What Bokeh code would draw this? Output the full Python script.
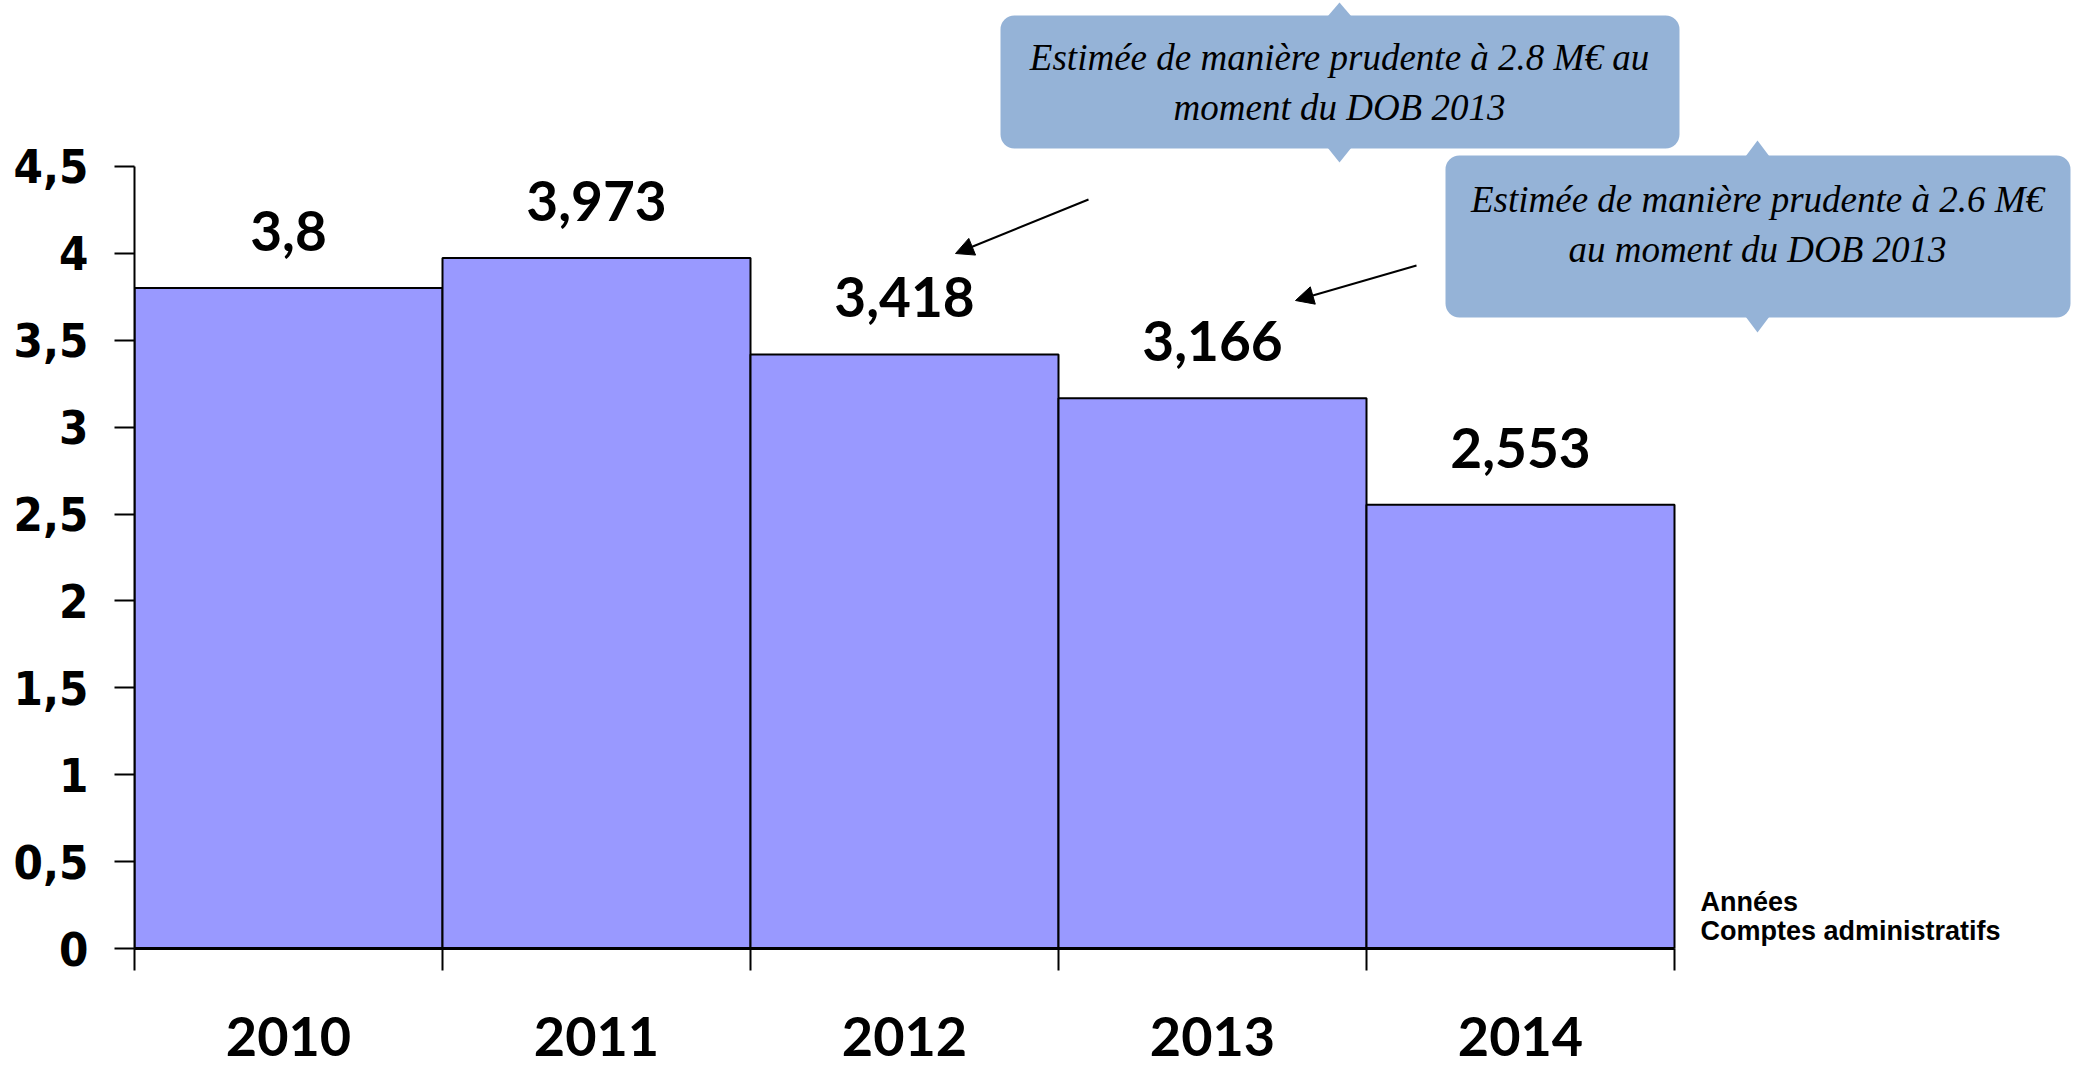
from bokeh.plotting import figure
from bokeh.models import (Range1d, FixedTicker, BoxAnnotation, Arrow, NormalHead,
                          ColumnDataSource, Label)
from bokeh.core.properties import value
from bokeh.embed import file_html
from bokeh.resources import INLINE

# ---- data ----
years = ["2010", "2011", "2012", "2013", "2014"]
amounts = [3.8, 3.973, 3.418, 3.166, 2.553]
amount_labels = ["3,8", "3,973", "3,418", "3,166", "2,553"]
y_ticks = [0, 0.5, 1, 1.5, 2, 2.5, 3, 3.5, 4, 4.5]
y_tick_labels = ["0", "0,5", "1", "1,5", "2", "2,5", "3", "3,5", "4", "4,5"]
axis_title = ["Années", "Comptes administratifs"]
note1 = ["Estimée de manière prudente à 2.8 M€ au", "moment du DOB 2013"]
note2 = ["Estimée de manière prudente à 2.6 M€", "au moment du DOB 2013"]

# ---- layout constants (pixels) ----
W, H = 2078, 1067
LEFT, BOTTOM_PX = 134, 948          # frame left / y=0 pixel row
BAR_PX, UNIT_PX = 308, 173.8        # px per bar, px per y unit


def dx(px):
    return (px - LEFT) / BAR_PX


def dy(py):
    return (BOTTOM_PX - py) / UNIT_PX


n = len(years)
lefts = list(range(n))
rights = [i + 1 for i in range(n)]
centers = [i + 0.5 for i in range(n)]

p = figure(width=W, height=H, output_backend="svg", toolbar_location=None,
           x_range=Range1d(0, (W - LEFT) / BAR_PX),
           y_range=Range1d(0, BOTTOM_PX / UNIT_PX),
           min_border_left=LEFT, min_border_right=0, min_border_top=0,
           min_border_bottom=H - BOTTOM_PX)
p.outline_line_color = None
p.xgrid.visible = False
p.ygrid.visible = False
p.background_fill_color = "white"
p.border_fill_color = "white"

src = ColumnDataSource(dict(left=lefts, right=rights, top=amounts,
                            bottom=[0] * n, x=centers, lab=amount_labels))
p.quad(left="left", right="right", top="top", bottom="bottom", source=src,
       fill_color="#9999FF", line_color="black", line_width=2)

p.text(x="x", y="top", text="lab", source=src, y_offset=-57,
       text_align="center", text_baseline="middle",
       text_font=value("Lato"), text_font_style="bold",
       text_font_size="55px", text_color="black")

# y axis
ya = p.yaxis[0]
ya.ticker = FixedTicker(ticks=y_ticks)
ya.major_label_overrides = {t: l for t, l in zip(y_ticks, y_tick_labels)}
ya.bounds = (0, 4.5)
ya.axis_line_width = 2
ya.axis_line_color = "black"
ya.major_tick_in = 0
ya.major_tick_out = 20
ya.major_tick_line_width = 2
ya.minor_tick_line_color = None
ya.major_label_standoff = 26
ya.major_label_text_font = "DejaVu Sans Condensed, DejaVu Sans"
ya.major_label_text_font_style = "bold"
ya.major_label_text_font_size = "47px"
ya.major_label_text_color = "black"

# x axis
xa = p.xaxis[0]
xa.ticker = FixedTicker(ticks=centers, minor_ticks=list(range(n + 1)))
xa.major_label_overrides = {c: y for c, y in zip(centers, years)}
xa.bounds = (0, n)
xa.axis_line_width = 3
xa.axis_line_color = "black"
xa.major_tick_in = 0
xa.major_tick_out = 0
xa.major_tick_line_color = None
xa.minor_tick_in = 0
xa.minor_tick_out = 22
xa.minor_tick_line_width = 2
xa.minor_tick_line_color = "black"
xa.major_label_standoff = 46
xa.major_label_text_font = "Lato"
xa.major_label_text_font_style = "bold"
xa.major_label_text_font_size = "54px"
xa.major_label_text_color = "black"

# axis title on the right
for txt, py in zip(axis_title, [901, 930]):
    p.add_layout(Label(x=dx(1700), y=dy(py), text=txt,
                       text_align="left", text_baseline="middle",
                       text_font="Liberation Sans Narrow, Arial Narrow, Liberation Sans",
                       text_font_style="bold", text_font_size="27px",
                       text_color="black"))

# callouts
BOX = "#95B3D7"


def callout(x0, x1, y0, y1, cx, top_apex, bot_apex, lines, ly):
    p.add_layout(BoxAnnotation(left=dx(x0), right=dx(x1), top=dy(y0), bottom=dy(y1),
                               fill_color=BOX, fill_alpha=1.0, line_color=None,
                               border_radius=14, level="underlay"))
    p.patches(xs=[[dx(cx - 12), dx(cx), dx(cx + 12)], [dx(cx - 12), dx(cx), dx(cx + 12)]],
              ys=[[dy(y0 + 1), dy(top_apex), dy(y0 + 1)], [dy(y1 - 1), dy(bot_apex), dy(y1 - 1)]],
              fill_color=BOX, line_color=None)
    p.text(x=[dx(cx)] * len(lines), y=[dy(v) for v in ly], text=lines,
           text_align="center", text_baseline="middle",
           text_font=value("Liberation Serif"), text_font_style="italic",
           text_font_size="37px", text_color="black")


callout(1000, 1679, 15, 148, 1339, 2, 162, note1, [57, 107])
callout(1445, 2070, 155, 317, 1757, 140, 332, note2, [199, 249])

# arrows
for (sx, sy, ex, ey) in [(1088, 199, 955, 253), (1416, 265, 1295, 300)]:
    p.add_layout(Arrow(x_start=dx(sx), y_start=dy(sy), x_end=dx(ex), y_end=dy(ey),
                       line_width=2, line_color="black",
                       end=NormalHead(size=18, fill_color="black", line_color="black")))

open("out.html", "w").write(file_html(p, INLINE))
